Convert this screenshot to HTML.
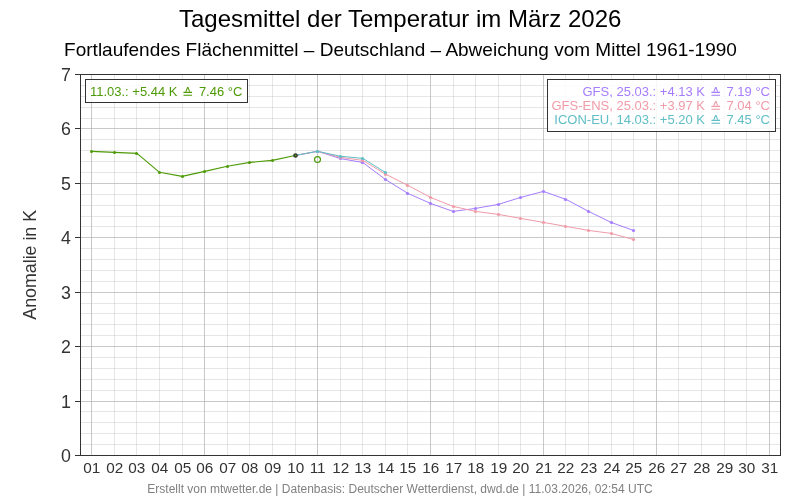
<!DOCTYPE html>
<html lang="de"><head><meta charset="utf-8"><title>Tagesmittel der Temperatur im März 2026</title>
<style>html,body{margin:0;padding:0;background:#fff}svg{display:block;will-change:transform}</style></head>
<body>
<svg width="800" height="500" viewBox="0 0 800 500">
<rect width="800" height="500" fill="#ffffff"/>
<g shape-rendering="crispEdges" stroke-width="1" fill="none">
<g stroke="#b0b0b0" stroke-opacity="0.32">
<path d="M80.5 444.5H780.5"/>
<path d="M80.5 433.5H780.5"/>
<path d="M80.5 422.5H780.5"/>
<path d="M80.5 411.5H780.5"/>
<path d="M80.5 390.5H780.5"/>
<path d="M80.5 379.5H780.5"/>
<path d="M80.5 368.5H780.5"/>
<path d="M80.5 357.5H780.5"/>
<path d="M80.5 335.5H780.5"/>
<path d="M80.5 324.5H780.5"/>
<path d="M80.5 313.5H780.5"/>
<path d="M80.5 303.5H780.5"/>
<path d="M80.5 281.5H780.5"/>
<path d="M80.5 270.5H780.5"/>
<path d="M80.5 259.5H780.5"/>
<path d="M80.5 248.5H780.5"/>
<path d="M80.5 226.5H780.5"/>
<path d="M80.5 216.5H780.5"/>
<path d="M80.5 205.5H780.5"/>
<path d="M80.5 194.5H780.5"/>
<path d="M80.5 172.5H780.5"/>
<path d="M80.5 161.5H780.5"/>
<path d="M80.5 150.5H780.5"/>
<path d="M80.5 139.5H780.5"/>
<path d="M80.5 118.5H780.5"/>
<path d="M80.5 107.5H780.5"/>
<path d="M80.5 96.5H780.5"/>
<path d="M80.5 85.5H780.5"/>
<path d="M114.5 74.5V455.5"/>
<path d="M136.5 74.5V455.5"/>
<path d="M159.5 74.5V455.5"/>
<path d="M182.5 74.5V455.5"/>
<path d="M227.5 74.5V455.5"/>
<path d="M249.5 74.5V455.5"/>
<path d="M272.5 74.5V455.5"/>
<path d="M295.5 74.5V455.5"/>
<path d="M340.5 74.5V455.5"/>
<path d="M362.5 74.5V455.5"/>
<path d="M385.5 74.5V455.5"/>
<path d="M407.5 74.5V455.5"/>
<path d="M453.5 74.5V455.5"/>
<path d="M475.5 74.5V455.5"/>
<path d="M498.5 74.5V455.5"/>
<path d="M520.5 74.5V455.5"/>
<path d="M565.5 74.5V455.5"/>
<path d="M588.5 74.5V455.5"/>
<path d="M611.5 74.5V455.5"/>
<path d="M633.5 74.5V455.5"/>
<path d="M678.5 74.5V455.5"/>
<path d="M701.5 74.5V455.5"/>
<path d="M724.5 74.5V455.5"/>
<path d="M746.5 74.5V455.5"/>
</g>
<g stroke="#b0b0b0" stroke-opacity="0.7">
<path d="M80.5 401.5H780.5"/>
<path d="M80.5 346.5H780.5"/>
<path d="M80.5 292.5H780.5"/>
<path d="M80.5 237.5H780.5"/>
<path d="M80.5 183.5H780.5"/>
<path d="M80.5 128.5H780.5"/>
<path d="M91.5 74.5V455.5"/>
<path d="M204.5 74.5V455.5"/>
<path d="M317.5 74.5V455.5"/>
<path d="M430.5 74.5V455.5"/>
<path d="M543.5 74.5V455.5"/>
<path d="M656.5 74.5V455.5"/>
<path d="M769.5 74.5V455.5"/>
</g></g>
<g id="data">
<polyline points="295.0,155.5 317.6,151.3 340.2,158.5 362.8,162.5 385.3,179.4 407.9,193.4 430.5,203.4 453.1,211.4 475.7,208.4 498.2,204.4 520.8,197.4 543.4,191.4 566.0,199.4 588.6,211.4 611.1,222.4 633.7,230.5" fill="none" stroke="#a57dfd" stroke-width="1.0" stroke-linejoin="round"/><circle cx="317.5" cy="151.5" r="1.6" fill="#a57dfd"/><circle cx="340.5" cy="158.5" r="1.6" fill="#a57dfd"/><circle cx="362.5" cy="162.5" r="1.6" fill="#a57dfd"/><circle cx="385.5" cy="179.5" r="1.6" fill="#a57dfd"/><circle cx="407.5" cy="193.5" r="1.6" fill="#a57dfd"/><circle cx="430.5" cy="203.5" r="1.6" fill="#a57dfd"/><circle cx="453.5" cy="211.5" r="1.6" fill="#a57dfd"/><circle cx="475.5" cy="208.5" r="1.6" fill="#a57dfd"/><circle cx="498.5" cy="204.5" r="1.6" fill="#a57dfd"/><circle cx="520.5" cy="197.5" r="1.6" fill="#a57dfd"/><circle cx="543.5" cy="191.5" r="1.6" fill="#a57dfd"/><circle cx="565.5" cy="199.5" r="1.6" fill="#a57dfd"/><circle cx="588.5" cy="211.5" r="1.6" fill="#a57dfd"/><circle cx="611.5" cy="222.5" r="1.6" fill="#a57dfd"/><circle cx="633.5" cy="230.5" r="1.6" fill="#a57dfd"/>
<polyline points="295.0,155.5 317.6,151.3 340.2,157.3 362.8,160.4 385.3,174.0 407.9,185.4 430.5,197.4 453.1,206.4 475.7,211.4 498.2,214.4 520.8,218.4 543.4,222.4 566.0,226.4 588.6,230.4 611.1,233.4 633.7,239.5" fill="none" stroke="#f09ba8" stroke-width="1.0" stroke-linejoin="round"/><circle cx="317.5" cy="151.5" r="1.6" fill="#f09ba8"/><circle cx="340.5" cy="157.5" r="1.6" fill="#f09ba8"/><circle cx="362.5" cy="160.5" r="1.6" fill="#f09ba8"/><circle cx="385.5" cy="174.5" r="1.6" fill="#f09ba8"/><circle cx="407.5" cy="185.5" r="1.6" fill="#f09ba8"/><circle cx="430.5" cy="197.5" r="1.6" fill="#f09ba8"/><circle cx="453.5" cy="206.5" r="1.6" fill="#f09ba8"/><circle cx="475.5" cy="211.5" r="1.6" fill="#f09ba8"/><circle cx="498.5" cy="214.5" r="1.6" fill="#f09ba8"/><circle cx="520.5" cy="218.5" r="1.6" fill="#f09ba8"/><circle cx="543.5" cy="222.5" r="1.6" fill="#f09ba8"/><circle cx="565.5" cy="226.5" r="1.6" fill="#f09ba8"/><circle cx="588.5" cy="230.5" r="1.6" fill="#f09ba8"/><circle cx="611.5" cy="233.5" r="1.6" fill="#f09ba8"/><circle cx="633.5" cy="239.5" r="1.6" fill="#f09ba8"/>
<polyline points="295.0,155.5 317.6,151.3 340.2,156.2 362.8,158.4 385.3,172.4" fill="none" stroke="#5fbec6" stroke-width="1.0" stroke-linejoin="round"/><circle cx="317.5" cy="151.5" r="1.6" fill="#5fbec6"/><circle cx="340.5" cy="156.5" r="1.6" fill="#5fbec6"/><circle cx="362.5" cy="158.5" r="1.6" fill="#5fbec6"/><circle cx="385.5" cy="172.5" r="1.6" fill="#5fbec6"/>
<polyline points="91.8,151.4 114.4,152.4 137.0,153.4 159.5,172.3 182.1,176.4 204.7,171.4 227.3,166.3 249.9,162.4 272.4,160.4" fill="none" stroke="#4e9a06" stroke-width="1.1" stroke-linejoin="round"/><circle cx="91.5" cy="151.5" r="1.5" fill="#4e9a06"/><circle cx="114.5" cy="152.5" r="1.5" fill="#4e9a06"/><circle cx="136.5" cy="153.5" r="1.5" fill="#4e9a06"/><circle cx="159.5" cy="172.5" r="1.5" fill="#4e9a06"/><circle cx="182.5" cy="176.5" r="1.5" fill="#4e9a06"/><circle cx="204.5" cy="171.5" r="1.5" fill="#4e9a06"/><circle cx="227.5" cy="166.5" r="1.5" fill="#4e9a06"/><circle cx="249.5" cy="162.5" r="1.5" fill="#4e9a06"/><circle cx="272.5" cy="160.5" r="1.5" fill="#4e9a06"/>
<polyline points="272.4,160.4 295.0,155.5" fill="none" stroke="#4e9a06" stroke-width="1.1"/>
<circle cx="295.5" cy="155.5" r="2.3" fill="#333333"/>
<circle cx="295.5" cy="155.5" r="0.9" fill="#4e9a06"/>
<circle cx="317.5" cy="159.5" r="2.95" fill="none" stroke="#4e9a06" stroke-width="1.15"/>
</g>
<g shape-rendering="crispEdges" stroke="#333333" stroke-width="1" fill="none">
<rect x="80.5" y="74.5" width="700.0" height="381.0"/>
<path d="M75 455.5H80"/>
<path d="M75 401.5H80"/>
<path d="M75 346.5H80"/>
<path d="M75 292.5H80"/>
<path d="M75 237.5H80"/>
<path d="M75 183.5H80"/>
<path d="M75 128.5H80"/>
<path d="M75 74.5H80"/>
</g>
<g font-family="'Liberation Sans','DejaVu Sans',sans-serif" font-size="17.8" fill="#333333" text-anchor="end">
<text x="71" y="461.7">0</text>
<text x="71" y="407.7">1</text>
<text x="71" y="352.7">2</text>
<text x="71" y="298.7">3</text>
<text x="71" y="243.7">4</text>
<text x="71" y="189.7">5</text>
<text x="71" y="134.7">6</text>
<text x="71" y="80.7">7</text>
</g>
<g font-family="'Liberation Sans','DejaVu Sans',sans-serif" font-size="15.3" fill="#333333" text-anchor="middle">
<text x="91.7" y="472.8">01</text>
<text x="114.7" y="472.8">02</text>
<text x="136.7" y="472.8">03</text>
<text x="159.7" y="472.8">04</text>
<text x="182.7" y="472.8">05</text>
<text x="204.7" y="472.8">06</text>
<text x="227.7" y="472.8">07</text>
<text x="249.7" y="472.8">08</text>
<text x="272.7" y="472.8">09</text>
<text x="295.7" y="472.8">10</text>
<text x="317.7" y="472.8">11</text>
<text x="340.7" y="472.8">12</text>
<text x="362.7" y="472.8">13</text>
<text x="385.7" y="472.8">14</text>
<text x="407.7" y="472.8">15</text>
<text x="430.7" y="472.8">16</text>
<text x="453.7" y="472.8">17</text>
<text x="475.7" y="472.8">18</text>
<text x="498.7" y="472.8">19</text>
<text x="520.7" y="472.8">20</text>
<text x="543.7" y="472.8">21</text>
<text x="565.7" y="472.8">22</text>
<text x="588.7" y="472.8">23</text>
<text x="611.7" y="472.8">24</text>
<text x="633.7" y="472.8">25</text>
<text x="656.7" y="472.8">26</text>
<text x="678.7" y="472.8">27</text>
<text x="701.7" y="472.8">28</text>
<text x="724.7" y="472.8">29</text>
<text x="746.7" y="472.8">30</text>
<text x="769.7" y="472.8">31</text>
</g>
<text font-family="'Liberation Sans','DejaVu Sans',sans-serif" font-size="17.8" fill="#333333" text-anchor="middle" transform="translate(36.0 264.8) rotate(-90)">Anomalie in K</text>
<text font-family="'Liberation Sans','DejaVu Sans',sans-serif" font-size="24" fill="#000" text-anchor="middle" x="400.2" y="27.3">Tagesmittel der Temperatur im März 2026</text>
<text font-family="'Liberation Sans','DejaVu Sans',sans-serif" font-size="19" fill="#000" text-anchor="middle" x="400.5" y="56.3">Fortlaufendes Flächenmittel – Deutschland – Abweichung vom Mittel 1961-1990</text>
<text font-family="'Liberation Sans','DejaVu Sans',sans-serif" font-size="12" fill="#808080" text-anchor="middle" x="400" y="492.6">Erstellt von mtwetter.de | Datenbasis: Deutscher Wetterdienst, dwd.de | 11.03.2026, 02:54 UTC</text>
<rect x="85.5" y="79.5" width="162" height="23" fill="#ffffff" fill-opacity="0.85" stroke="#333333" stroke-width="1" shape-rendering="crispEdges"/>
<text font-family="'Liberation Sans','DejaVu Sans',sans-serif" font-size="13" fill="#4e9a06" y="95.8"><tspan x="89.9">11.03.: +5.44 K</tspan><tspan x="182.0" y="98.1" font-family="'DejaVu Sans',sans-serif" font-size="13.75">≙</tspan><tspan x="198.9" y="95.8">7.46 °C</tspan></text>
<rect x="547.5" y="79.5" width="228" height="52" fill="#ffffff" fill-opacity="0.85" stroke="#333333" stroke-width="1" shape-rendering="crispEdges"/>
<g font-family="'Liberation Sans','DejaVu Sans',sans-serif" font-size="13">
<text y="95.6" fill="#a57dfd"><tspan x="705" text-anchor="end">GFS, 25.03.: +4.13 K</tspan><tspan x="710.0" y="97.9" text-anchor="start" font-family="'DejaVu Sans',sans-serif" font-size="13.75">≙</tspan><tspan x="770" y="95.6" text-anchor="end">7.19 °C</tspan></text>
<text y="109.7" fill="#f09ba8"><tspan x="705" text-anchor="end">GFS-ENS, 25.03.: +3.97 K</tspan><tspan x="710.0" y="112.0" text-anchor="start" font-family="'DejaVu Sans',sans-serif" font-size="13.75">≙</tspan><tspan x="770" y="109.7" text-anchor="end">7.04 °C</tspan></text>
<text y="123.8" fill="#5fbec6"><tspan x="705" text-anchor="end">ICON-EU, 14.03.: +5.20 K</tspan><tspan x="710.0" y="126.1" text-anchor="start" font-family="'DejaVu Sans',sans-serif" font-size="13.75">≙</tspan><tspan x="770" y="123.8" text-anchor="end">7.45 °C</tspan></text>
</g>
</svg>
</body></html>
